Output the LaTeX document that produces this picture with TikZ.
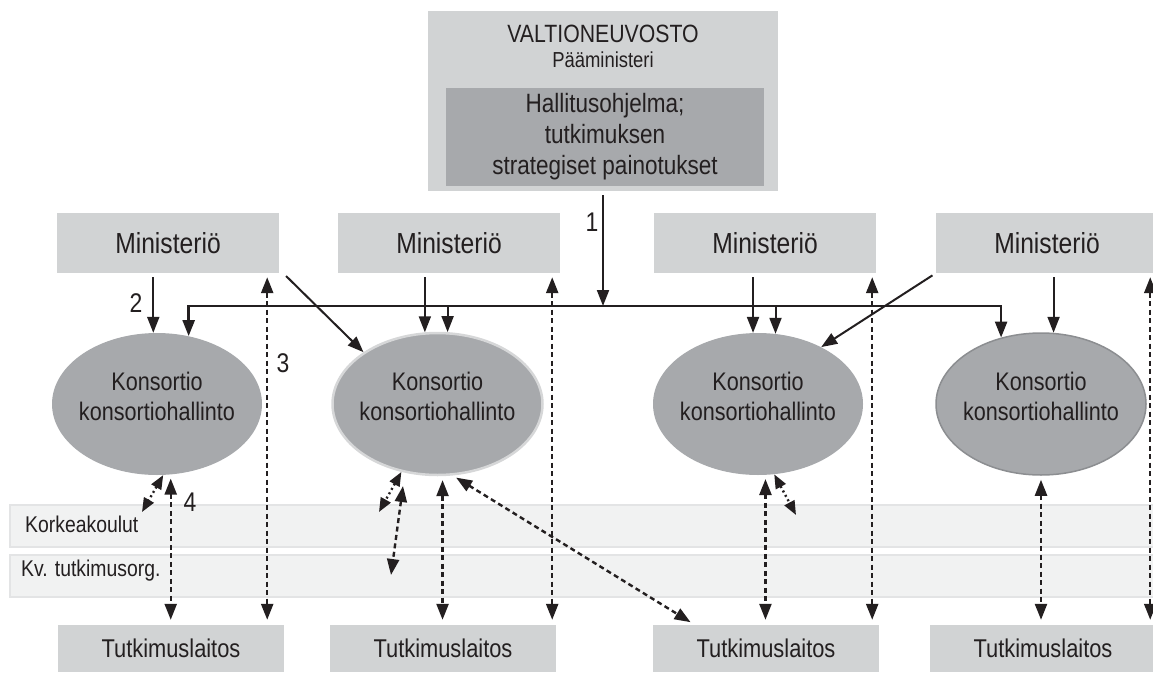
\documentclass[tikz,border=0pt]{standalone}
\usepackage{fontspec}
\setmainfont{Liberation Sans}[FakeStretch=0.85]
\usetikzlibrary{positioning}
\usetikzlibrary{arrows.meta,calc,shapes.geometric}
\definecolor{boxgray}{HTML}{D1D3D4}
\definecolor{darkgray}{HTML}{A7A9AC}
\definecolor{bandfill}{HTML}{F1F2F2}
\definecolor{bandline}{HTML}{E3E4E5}
\definecolor{inkblack}{HTML}{231F20}
\definecolor{rimlight}{HTML}{D6D7D8}
\definecolor{rimdark}{HTML}{8C8E91}

\begin{document}
\begin{tikzpicture}[x=1pt,y=-1pt,
  every node/.style={text=inkblack},
  minbox/.style={fill=boxgray,minimum width=222pt,minimum height=60pt,inner sep=0pt,font=\fontsize{29}{34}\selectfont},
  tutbox/.style={fill=boxgray,minimum width=226pt,minimum height=47pt,inner sep=0pt,font=\fontsize{25.7}{30}\selectfont},
  kons/.style={ellipse,fill=darkgray,minimum width=210pt,minimum height=142pt,inner sep=0pt},
  konstext/.style={align=center,inner sep=0pt,font=\fontsize{25.4}{30}\selectfont},
  band/.style={fill=bandfill,draw=bandline,line width=1.5pt,minimum width=1150pt,minimum height=42pt,inner sep=0pt},
  bandtext/.style={anchor=west,inner sep=0pt,font=\fontsize{22.8}{26}\selectfont},
  num/.style={inner sep=0pt,font=\fontsize{27}{30}\selectfont},
  link/.style={draw=inkblack,line width=2pt,-{Triangle[length=16pt,width=12pt]},shorten <=4pt},
  flow/.style={draw=inkblack,line width=2.4pt,dash pattern=on 5pt off 3.5pt,{Triangle[length=16pt,width=12pt]}-{Triangle[length=16pt,width=12pt]},shorten <=4pt,shorten >=5pt},
  hop/.style={draw=inkblack,line width=2.4pt,dash pattern=on 2pt off 3pt,{Triangle[length=14pt,width=11pt]}-{Triangle[length=14pt,width=11pt]}}
]
\useasboundingbox (0,0) rectangle (1153,672);

\node[band] (hkband) at (585,526) {};
\node[band] (kvband) at (585,576) {};
\node[bandtext] (hklab) at (25,524) {Korkeakoulut};
\node[bandtext] (kvlab) at (21,571) {Kv. tutkimusorg.};

\node[fill=boxgray,minimum width=350pt,minimum height=180pt,inner sep=0pt] (vn) at (603,101) {};
\node[fill=darkgray,minimum width=318pt,minimum height=98pt,inner sep=0pt,align=center,font=\fontsize{26.5}{31}\selectfont] (ohj) at (605,137) {Hallitusohjelma;\\tutkimuksen\\strategiset painotukset};
\node[inner sep=0pt,font=\fontsize{25}{28}\selectfont] (vnt) at (603,34) {VALTIONEUVOSTO};
\node[inner sep=0pt,font=\fontsize{21.7}{24}\selectfont] (pm) at (603,60) {Pääministeri};

\node[minbox] (m1) at (168,243) {Ministeriö};
\node[minbox] (m2) at (449,243) {Ministeriö};
\node[minbox] (m3) at (765,243) {Ministeriö};
\node[minbox] (m4) at (1047,243) {Ministeriö};

\node[kons] (e1) at (157,404) {};
\node[kons,draw=rimlight,line width=2.5pt] (e2) at (437.5,404) {};
\node[kons] (e3) at (758,404) {};
\node[kons,draw=rimdark,line width=1.5pt] (e4) at (1041,404) {};
\node[konstext] (e1t) at ($(e1)+(0,-8)$) {Konsortio\\konsortiohallinto};
\node[konstext] (e2t) at ($(e2)+(0,-8)$) {Konsortio\\konsortiohallinto};
\node[konstext] (e3t) at ($(e3)+(0,-8)$) {Konsortio\\konsortiohallinto};
\node[konstext] (e4t) at ($(e4)+(0,-8)$) {Konsortio\\konsortiohallinto};

\node[tutbox] (t1) at (171,648.5) {Tutkimuslaitos};
\node[tutbox] (t2) at (443,648.5) {Tutkimuslaitos};
\node[tutbox] (t3) at (766,648.5) {Tutkimuslaitos};
\node[tutbox] (t4) at (1043,648.5) {Tutkimuslaitos};

\coordinate (bus) at (188,306);
\coordinate (hk1) at (142,512);
\coordinate (hk2) at (379,512);
\coordinate (kv1) at (403,486);
\coordinate (kv2) at (391,575);
\coordinate (hk3) at (796,515);

\draw[link] (vn.south) -- (vn.south |- bus);
\draw[link,line width=2.5pt,{Triangle[length=16pt,width=12pt]}-{Triangle[length=16pt,width=12pt]},shorten <=0pt] (e1.65) |- (e4.121 |- bus) -- (e4.121);
\draw[link] (e1.93 |- m1.south) -- (e1.93);
\draw[link] ([xshift=4pt]m1.south east) -- (e2.145);
\draw[link] (e2.100 |- m2.south) -- (e2.100);
\draw[link,shorten <=0pt] (e2.82 |- bus) -- (e2.82);
\draw[link] (e3.94 |- m3.south) -- (e3.94);
\draw[link,shorten <=0pt] (e3.76 |- bus) -- (e3.76);
\draw[link] (m4.south west) -- (e3.42);
\draw[link] (e4.80 |- m4.south) -- (e4.80);

\draw[flow] ($(m1.south east)+(-12,0)$) -- ($(m1.south east |- t1.north)+(-12,0)$);
\draw[flow] ($(m2.south east)+(-8,0)$) -- ($(m2.south east |- t2.north)+(-8,0)$);
\draw[flow] ($(m3.south east)+(-4,0)$) -- ($(m3.south east |- t3.north)+(-4,0)$);
\draw[flow] ($(m4.south east)+(-8,0)$) -- ($(m4.south east |- t4.north)+(-8,0)$);
\draw[flow] (e1.-79) -- (e1.-79 |- t1.north);
\draw[flow] (e2.-86) -- (e2.-86 |- t2.north);
\draw[flow] (e3.-84) -- (e3.-84 |- t3.north);
\draw[flow] (e4.south) -- (e4.south |- t4.north);
\draw[flow] (e2.-78) -- ($(t3.north west)+(42,0)$);
\draw[flow,shorten <=0pt,shorten >=0pt] (kv1) -- (kv2);
\draw[hop] (e1.-85) -- (hk1);
\draw[hop] (e2.-118) -- (hk2);
\draw[hop] (e3.-77) -- (hk3);

\node[num] (n1) at (592,222) {1};
\node[num] (n2) at (136,303) {2};
\node[num] (n3) at (283,363) {3};
\node[num] (n4) at (190,502) {4};
\end{tikzpicture}
\end{document}
